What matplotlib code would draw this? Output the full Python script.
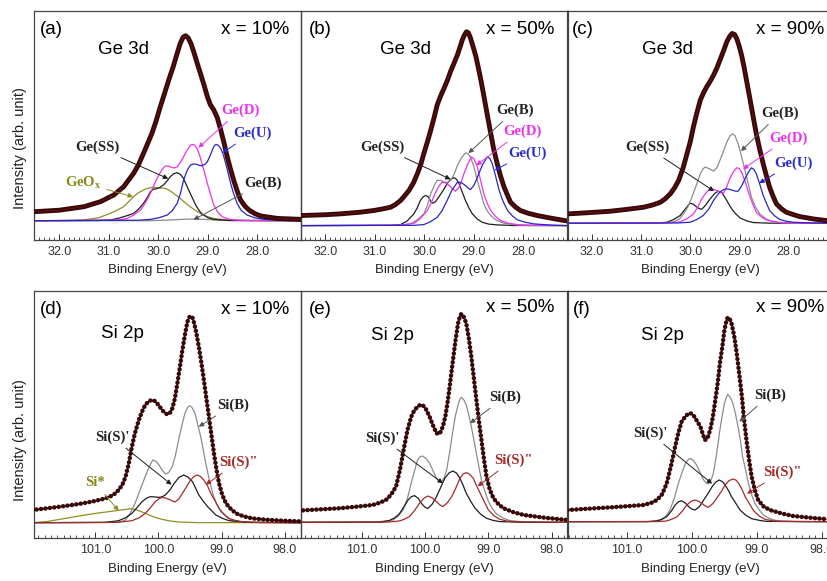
import matplotlib
matplotlib.use("Agg")
import matplotlib.pyplot as plt
from matplotlib.ticker import MultipleLocator, FormatStrFormatter

plt.rcParams['font.family'] = ['Liberation Sans', 'DejaVu Sans']
plt.rcParams['mathtext.fontset'] = 'stix'

# ---------------- DATA (binding energy in eV, intensity in arb. units) ----------------
# (a) Ge 3d, x = 10%
A_ENV_E = [32.50, 32.00, 31.50, 31.17, 30.90, 30.70, 30.50, 30.40, 30.30, 30.20, 30.13, 30.05, 29.96, 29.87, 29.79, 29.70, 29.62, 29.56, 29.50, 29.45, 29.40, 29.34, 29.28, 29.20, 29.15, 29.08, 29.01, 28.95, 28.88, 28.81, 28.74, 28.67, 28.61, 28.54, 28.47, 28.40, 28.34, 28.25, 28.17, 28.05, 27.93, 27.60, 27.10]
A_ENV_I = [9.0, 10.5, 14.0, 19.0, 25.7, 34.0, 47.3, 56.0, 67.3, 79.0, 87.3, 99.0, 114.0, 128.0, 140.7, 154.0, 167.3, 177.0, 183.5, 185.0, 183.0, 177.0, 168.0, 155.0, 147.3, 136.0, 124.0, 116.0, 110.7, 103.0, 90.7, 77.0, 64.0, 51.0, 39.0, 28.5, 20.7, 14.5, 10.7, 7.0, 4.7, 2.3, 1.3]
A_OX_E = [32.50, 31.80, 31.51, 31.20, 30.97, 30.85, 30.70, 30.60, 30.50, 30.40, 30.30, 30.20, 30.13, 30.05, 29.99, 29.92, 29.86, 29.78, 29.69, 29.60, 29.49, 29.40, 29.28, 29.15, 29.01, 28.85, 28.61, 28.30, 27.10]
A_OX_I = [0, 0.2, 0.7, 3.0, 7.3, 10.0, 14.0, 19.0, 24.0, 28.0, 30.7, 32.6, 33.3, 33.0, 32.7, 32.6, 32.3, 30.5, 27.3, 24.0, 19.3, 15.5, 11.3, 7.3, 4.0, 2.0, 0.7, 0.2, 0]
A_SS_E = [32.50, 31.20, 30.97, 30.80, 30.70, 30.60, 30.50, 30.40, 30.30, 30.22, 30.16, 30.10, 30.03, 29.96, 29.89, 29.82, 29.76, 29.69, 29.62, 29.56, 29.50, 29.45, 29.39, 29.32, 29.25, 29.18, 29.12, 29.00, 28.88, 28.60, 27.10]
A_SS_I = [0, 0.2, 0.7, 2.5, 4.0, 5.5, 7.3, 11.5, 17.3, 23.5, 29.0, 31.5, 32.0, 33.5, 36.0, 40.0, 44.0, 47.0, 48.0, 46.5, 43.0, 37.5, 31.0, 23.5, 16.0, 10.5, 6.7, 3.0, 1.3, 0.3, 0]
A_D_E = [32.50, 30.80, 30.63, 30.50, 30.36, 30.26, 30.16, 30.08, 29.99, 29.92, 29.86, 29.79, 29.72, 29.67, 29.62, 29.55, 29.49, 29.42, 29.36, 29.32, 29.27, 29.22, 29.17, 29.12, 29.06, 29.01, 28.95, 28.88, 28.80, 28.71, 28.60, 28.47, 28.20, 27.10]
A_D_I = [0, 0.7, 2.3, 5.5, 10.7, 18.0, 27.3, 36.5, 45.7, 51.5, 54.7, 54.5, 53.0, 52.8, 54.0, 58.5, 64.0, 70.5, 75.0, 76.3, 75.5, 72.3, 66.0, 57.3, 47.0, 37.3, 27.0, 15.7, 8.5, 4.0, 1.8, 0.7, 0.2, 0]
A_U_E = [32.50, 30.40, 30.16, 30.00, 29.82, 29.72, 29.62, 29.55, 29.49, 29.42, 29.35, 29.28, 29.22, 29.17, 29.12, 29.06, 29.01, 28.96, 28.91, 28.87, 28.84, 28.79, 28.74, 28.69, 28.64, 28.59, 28.54, 28.48, 28.41, 28.33, 28.21, 28.05, 27.87, 27.50, 27.10]
A_U_I = [0, 0.5, 1.3, 2.8, 5.7, 10.0, 17.3, 28.0, 40.7, 50.0, 55.7, 56.8, 56.3, 55.3, 55.0, 56.3, 59.0, 64.5, 70.7, 75.0, 76.3, 75.5, 72.3, 66.0, 57.3, 47.5, 37.3, 27.0, 17.3, 10.5, 5.7, 2.8, 1.3, 0.3, 0]
A_B_E = [32.50, 30.20, 29.80, 29.50, 29.28, 29.05, 28.80, 28.47, 27.10]
A_B_I = [0, 0, 0.6, 1.4, 1.7, 1.3, 0.5, 0, 0]

# (b) Ge 3d, x = 50%
B_ENV_E = [32.50, 32.00, 31.69, 31.30, 31.02, 30.80, 30.68, 30.58, 30.48, 30.40, 30.31, 30.22, 30.14, 30.07, 30.01, 29.94, 29.87, 29.80, 29.74, 29.67, 29.60, 29.53, 29.47, 29.40, 29.33, 29.27, 29.23, 29.19, 29.15, 29.11, 29.07, 29.02, 28.96, 28.91, 28.86, 28.81, 28.76, 28.71, 28.66, 28.60, 28.53, 28.46, 28.39, 28.32, 28.26, 28.16, 28.06, 27.90, 27.72, 27.40, 27.08]
B_ENV_I = [10.0, 10.8, 11.7, 13.3, 15.0, 17.0, 18.3, 21.0, 25.0, 29.5, 35.0, 42.5, 51.7, 61.0, 71.7, 83.0, 95.0, 108.0, 120.0, 129.0, 136.7, 145.0, 153.3, 161.5, 170.0, 179.0, 185.0, 189.5, 192.7, 191.5, 186.7, 178.5, 168.3, 157.0, 145.0, 132.0, 118.3, 105.0, 91.7, 76.0, 61.7, 49.0, 38.3, 30.0, 23.3, 18.5, 15.0, 12.2, 10.0, 7.0, 4.3]
B_SS_E = [32.50, 30.70, 30.48, 30.35, 30.21, 30.14, 30.08, 30.02, 29.97, 29.92, 29.88, 29.84, 29.78, 29.71, 29.62, 29.54, 29.47, 29.40, 29.35, 29.30, 29.24, 29.17, 29.10, 29.03, 28.93, 28.83, 28.70, 28.53, 28.20, 27.08]
B_SS_I = [0, 0.3, 1.0, 4.5, 11.7, 18.0, 25.0, 28.8, 30.0, 28.5, 25.0, 22.3, 23.5, 28.3, 35.0, 41.7, 46.0, 47.7, 46.0, 41.7, 34.0, 25.0, 17.5, 11.7, 6.5, 3.3, 1.5, 0.7, 0.1, 0]
B_B_E = [32.50, 30.50, 30.28, 30.15, 30.01, 29.94, 29.87, 29.80, 29.74, 29.67, 29.60, 29.53, 29.47, 29.40, 29.33, 29.25, 29.17, 29.12, 29.07, 29.00, 28.93, 28.86, 28.80, 28.73, 28.66, 28.55, 28.39, 28.10, 27.08]
B_B_I = [0, 0.3, 1.7, 5.5, 11.7, 20.0, 31.7, 40.0, 45.0, 45.0, 43.3, 43.0, 45.0, 51.0, 60.0, 67.5, 72.3, 71.5, 68.3, 58.5, 45.0, 32.5, 21.7, 14.5, 10.0, 5.5, 2.3, 0.5, 0]
B_D_E = [32.50, 30.50, 30.21, 30.08, 29.94, 29.85, 29.77, 29.70, 29.64, 29.57, 29.50, 29.43, 29.37, 29.30, 29.25, 29.20, 29.12, 29.05, 29.00, 28.93, 28.87, 28.80, 28.73, 28.66, 28.56, 28.46, 28.30, 28.12, 27.80, 27.08]
B_D_I = [0, 0.5, 2.3, 7.0, 15.0, 24.0, 33.3, 39.5, 43.3, 42.5, 40.0, 36.5, 34.3, 38.0, 44.0, 51.7, 61.5, 68.3, 66.5, 58.3, 46.0, 31.7, 22.0, 15.0, 9.0, 5.0, 2.3, 1.0, 0.2, 0]
B_U_E = [32.50, 30.20, 30.01, 29.88, 29.74, 29.64, 29.54, 29.44, 29.33, 29.27, 29.20, 29.13, 29.07, 29.00, 28.95, 28.90, 28.82, 28.73, 28.68, 28.63, 28.56, 28.49, 28.41, 28.32, 28.22, 28.12, 27.95, 27.79, 27.40, 27.08]
B_U_I = [0, 0.3, 1.0, 3.8, 8.3, 15.0, 25.0, 35.5, 43.3, 43.0, 41.0, 38.0, 35.7, 40.0, 45.5, 51.7, 61.0, 68.3, 67.0, 61.7, 49.0, 35.0, 24.0, 15.0, 9.5, 5.7, 3.2, 1.7, 0.4, 0]

# (c) Ge 3d, x = 90%
C_ENV_E = [32.50, 32.00, 31.63, 31.30, 30.95, 30.75, 30.61, 30.51, 30.41, 30.32, 30.24, 30.15, 30.07, 30.00, 29.94, 29.87, 29.80, 29.73, 29.67, 29.60, 29.53, 29.46, 29.40, 29.33, 29.26, 29.20, 29.15, 29.10, 29.06, 29.01, 28.96, 28.91, 28.86, 28.81, 28.76, 28.71, 28.66, 28.59, 28.52, 28.45, 28.39, 28.32, 28.25, 28.15, 28.05, 27.90, 27.78, 27.50, 27.24, 27.05]
C_ENV_I = [9.3, 10.8, 12.0, 13.8, 16.0, 18.5, 21.0, 24.5, 29.3, 35.5, 42.7, 55.0, 69.3, 82.0, 96.0, 110.0, 122.7, 130.5, 136.0, 141.5, 147.7, 155.0, 162.7, 171.5, 181.0, 186.5, 189.3, 188.2, 184.3, 177.0, 167.7, 156.0, 142.7, 129.5, 116.0, 102.5, 89.3, 73.5, 59.3, 46.5, 36.0, 27.0, 19.3, 14.5, 11.0, 8.5, 6.7, 4.3, 2.7, 2.3]
C_SS_E = [32.50, 30.70, 30.48, 30.35, 30.21, 30.10, 30.01, 29.94, 29.87, 29.80, 29.77, 29.70, 29.60, 29.50, 29.43, 29.36, 29.30, 29.23, 29.16, 29.08, 28.99, 28.85, 28.72, 28.40, 27.05]
C_SS_I = [0, 0.2, 1.0, 3.5, 7.7, 14.5, 20.0, 19.0, 16.0, 14.2, 14.0, 17.5, 24.3, 30.0, 32.0, 30.5, 26.0, 20.0, 14.3, 9.5, 5.3, 2.3, 0.7, 0.1, 0]
C_B_E = [32.50, 30.55, 30.34, 30.22, 30.14, 30.05, 29.97, 29.88, 29.80, 29.74, 29.70, 29.62, 29.53, 29.46, 29.40, 29.33, 29.26, 29.19, 29.14, 29.09, 29.03, 28.96, 28.89, 28.82, 28.76, 28.68, 28.59, 28.45, 28.32, 28.00, 27.05]
C_B_I = [0, 0.3, 1.3, 4.5, 9.3, 16.5, 26.0, 38.0, 49.3, 54.5, 56.0, 54.5, 52.0, 55.5, 62.7, 71.5, 81.0, 87.5, 89.3, 87.0, 79.3, 66.5, 52.7, 38.5, 26.0, 16.5, 9.3, 4.0, 1.3, 0.2, 0]
C_D_E = [32.50, 30.45, 30.21, 30.07, 29.94, 29.85, 29.77, 29.68, 29.60, 29.53, 29.47, 29.40, 29.33, 29.27, 29.20, 29.13, 29.06, 29.01, 28.96, 28.89, 28.82, 28.74, 28.66, 28.55, 28.45, 28.18, 27.80, 27.05]
C_D_I = [0, 0.4, 1.3, 4.5, 9.3, 16.0, 24.3, 30.5, 34.3, 34.0, 32.7, 31.0, 30.0, 35.5, 44.3, 51.0, 55.3, 54.8, 51.0, 42.0, 31.0, 20.0, 11.0, 6.0, 3.3, 0.7, 0.1, 0]
C_U_E = [32.50, 30.25, 30.01, 29.88, 29.74, 29.63, 29.53, 29.46, 29.40, 29.33, 29.26, 29.20, 29.13, 29.08, 29.03, 28.96, 28.89, 28.82, 28.76, 28.71, 28.66, 28.59, 28.52, 28.45, 28.39, 28.29, 28.18, 28.05, 27.91, 27.50, 27.05]
C_U_I = [0, 0.3, 1.0, 3.5, 7.7, 14.0, 22.7, 27.5, 31.0, 33.5, 34.3, 33.8, 32.7, 32.0, 32.0, 37.0, 44.3, 51.0, 55.3, 53.8, 49.3, 39.0, 27.7, 19.5, 12.7, 7.5, 3.7, 2.0, 1.0, 0.2, 0]

# (d) Si 2p, x = 10%
D_ENV_E = [102.00, 101.75, 101.48, 101.25, 101.06, 100.90, 100.79, 100.70, 100.63, 100.57, 100.52, 100.47, 100.42, 100.37, 100.31, 100.26, 100.21, 100.16, 100.11, 100.06, 100.02, 99.98, 99.94, 99.90, 99.86, 99.82, 99.78, 99.74, 99.70, 99.66, 99.62, 99.58, 99.54, 99.51, 99.49, 99.46, 99.44, 99.40, 99.36, 99.32, 99.28, 99.24, 99.20, 99.16, 99.12, 99.08, 99.04, 98.99, 98.93, 98.85, 98.77, 98.65, 98.51, 98.30, 98.03, 97.75]
D_ENV_I = [12.7, 14.5, 16.7, 18.8, 21.0, 23.3, 25.3, 28.5, 32.7, 38.0, 46.0, 59.0, 76.0, 90.0, 102.7, 111.0, 117.7, 121.0, 122.7, 121.8, 119.3, 116.0, 112.7, 109.8, 108.3, 109.5, 114.3, 124.0, 139.3, 155.5, 172.7, 188.0, 201.0, 205.5, 206.7, 205.0, 201.0, 190.0, 176.0, 160.0, 142.7, 124.0, 106.0, 87.5, 69.3, 53.0, 39.3, 28.0, 19.3, 13.5, 9.3, 6.3, 4.3, 3.0, 2.0, 1.3]
D_X_E = [102.00, 101.75, 101.55, 101.32, 101.18, 101.06, 100.92, 100.79, 100.65, 100.52, 100.44, 100.38, 100.31, 100.23, 100.15, 100.05, 99.94, 99.82, 99.68, 99.40, 97.75]
D_X_I = [0, 1.3, 3.5, 6.0, 7.5, 8.7, 10.0, 11.0, 12.2, 13.3, 14.0, 13.5, 12.0, 10.0, 7.7, 5.3, 3.3, 1.8, 0.7, 0.1, 0]
D_B_E = [102.00, 100.70, 100.60, 100.52, 100.45, 100.37, 100.30, 100.23, 100.16, 100.09, 100.04, 99.99, 99.94, 99.89, 99.84, 99.78, 99.73, 99.68, 99.63, 99.58, 99.54, 99.51, 99.47, 99.42, 99.38, 99.33, 99.29, 99.25, 99.20, 99.14, 99.08, 99.01, 98.92, 98.83, 98.60, 97.75]
D_B_I = [0, 0.3, 1.0, 2.7, 9.0, 19.3, 31.0, 42.7, 54.0, 62.7, 61.5, 57.7, 52.5, 48.7, 50.0, 56.0, 67.5, 82.7, 97.0, 109.3, 115.0, 117.0, 115.5, 109.3, 99.0, 86.0, 73.0, 59.3, 44.5, 29.3, 19.0, 11.0, 5.5, 2.0, 0.3, 0]
D_S1_E = [102.00, 100.85, 100.63, 100.52, 100.42, 100.34, 100.26, 100.19, 100.13, 100.06, 99.99, 99.94, 99.89, 99.82, 99.75, 99.68, 99.60, 99.53, 99.46, 99.41, 99.36, 99.29, 99.22, 99.15, 99.09, 98.98, 98.88, 98.60, 97.75]
D_S1_I = [0, 0.3, 2.0, 5.0, 9.3, 15.0, 21.0, 24.5, 26.0, 25.8, 25.3, 26.0, 27.7, 32.5, 39.3, 45.0, 47.7, 45.5, 41.0, 34.5, 27.7, 21.5, 16.0, 11.5, 7.7, 4.2, 2.0, 0.4, 0]
D_S2_E = [102.00, 100.65, 100.42, 100.30, 100.21, 100.12, 100.05, 99.99, 99.94, 99.88, 99.83, 99.78, 99.74, 99.68, 99.62, 99.55, 99.49, 99.43, 99.38, 99.33, 99.28, 99.22, 99.17, 99.10, 99.04, 98.96, 98.88, 98.78, 98.67, 98.40, 97.75]
D_S2_I = [0, 0.3, 2.0, 5.0, 9.3, 15.5, 21.0, 24.0, 25.3, 24.5, 23.3, 21.8, 20.7, 23.5, 29.3, 36.5, 42.7, 46.5, 47.7, 46.0, 42.7, 36.5, 29.3, 21.5, 14.3, 8.5, 4.3, 2.2, 1.0, 0.2, 0]

# (e) Si 2p, x = 50%
E_ENV_E = [102.00, 101.70, 101.36, 101.10, 100.83, 100.72, 100.62, 100.54, 100.46, 100.40, 100.33, 100.28, 100.22, 100.17, 100.12, 100.08, 100.04, 99.99, 99.93, 99.88, 99.82, 99.77, 99.72, 99.68, 99.64, 99.60, 99.56, 99.52, 99.48, 99.45, 99.43, 99.40, 99.35, 99.31, 99.27, 99.23, 99.19, 99.15, 99.11, 99.07, 99.03, 98.98, 98.92, 98.84, 98.76, 98.60, 98.44, 98.10, 97.75]
E_ENV_I = [11.7, 12.8, 14.0, 15.5, 17.3, 19.5, 22.3, 27.5, 35.7, 52.0, 75.7, 92.0, 105.7, 112.0, 115.7, 117.3, 117.3, 113.5, 105.7, 97.5, 89.0, 88.5, 95.7, 106.0, 122.3, 142.0, 162.3, 182.0, 199.0, 206.0, 208.3, 207.0, 199.0, 184.0, 165.7, 144.0, 122.3, 101.5, 82.3, 63.0, 45.7, 33.0, 24.0, 18.0, 14.0, 10.0, 7.3, 4.5, 2.3]
E_B_E = [102.00, 100.70, 100.51, 100.43, 100.35, 100.28, 100.22, 100.17, 100.12, 100.08, 100.04, 99.99, 99.93, 99.87, 99.82, 99.78, 99.74, 99.70, 99.66, 99.61, 99.56, 99.52, 99.48, 99.45, 99.43, 99.39, 99.35, 99.31, 99.27, 99.23, 99.19, 99.15, 99.11, 99.05, 99.00, 98.93, 98.87, 98.76, 98.66, 98.40, 97.75]
E_B_I = [0, 0.2, 2.3, 6.0, 12.3, 24.0, 39.0, 51.0, 62.3, 65.5, 66.3, 64.0, 59.0, 51.0, 44.0, 41.0, 40.7, 44.5, 52.3, 71.0, 92.3, 107.0, 117.3, 123.0, 125.0, 122.5, 117.3, 107.5, 95.7, 82.5, 69.0, 55.5, 42.3, 30.0, 20.7, 13.0, 8.3, 4.0, 1.7, 0.2, 0]
E_S1_E = [102.00, 100.75, 100.57, 100.48, 100.41, 100.34, 100.27, 100.22, 100.17, 100.11, 100.06, 100.01, 99.96, 99.89, 99.82, 99.75, 99.69, 99.62, 99.56, 99.50, 99.45, 99.40, 99.35, 99.28, 99.21, 99.12, 99.03, 98.92, 98.82, 98.50, 97.75]
E_S1_I = [0, 0.2, 1.7, 4.5, 8.3, 15.0, 22.3, 25.5, 26.7, 24.0, 19.0, 15.5, 13.7, 18.0, 25.7, 35.5, 44.0, 49.5, 51.3, 49.0, 44.0, 37.0, 29.0, 21.0, 14.0, 8.0, 4.0, 1.8, 0.7, 0.1, 0]
E_S2_E = [102.00, 100.60, 100.41, 100.33, 100.25, 100.17, 100.09, 100.02, 99.96, 99.89, 99.82, 99.77, 99.72, 99.65, 99.58, 99.51, 99.45, 99.40, 99.35, 99.30, 99.24, 99.19, 99.13, 99.06, 99.00, 98.91, 98.82, 98.70, 98.55, 97.75]
E_S2_I = [0, 0.2, 1.3, 3.0, 5.7, 11.5, 19.0, 24.0, 26.3, 24.5, 20.7, 17.5, 15.7, 19.5, 25.7, 35.0, 44.0, 48.2, 49.7, 48.2, 44.0, 37.0, 29.0, 20.0, 12.3, 6.5, 3.0, 1.2, 0.3, 0]

# (f) Si 2p, x = 90%
F_ENV_E = [101.92, 101.60, 101.26, 101.00, 100.75, 100.63, 100.54, 100.46, 100.39, 100.32, 100.26, 100.21, 100.16, 100.10, 100.05, 100.01, 99.98, 99.93, 99.87, 99.83, 99.80, 99.76, 99.72, 99.68, 99.64, 99.60, 99.57, 99.53, 99.50, 99.47, 99.45, 99.42, 99.39, 99.35, 99.31, 99.27, 99.23, 99.20, 99.16, 99.12, 99.08, 99.03, 98.98, 98.90, 98.80, 98.60, 98.44, 98.10, 97.81]
F_ENV_I = [11.7, 13.0, 14.3, 15.5, 16.7, 18.8, 21.7, 27.5, 38.3, 57.0, 75.0, 89.0, 100.0, 105.5, 108.3, 108.2, 106.7, 101.5, 95.0, 87.0, 81.7, 83.5, 91.7, 104.0, 121.7, 140.5, 158.3, 176.0, 191.7, 200.5, 204.3, 203.0, 198.3, 186.0, 168.3, 147.0, 125.0, 104.0, 81.7, 62.0, 45.0, 31.5, 21.7, 15.5, 11.7, 8.0, 5.7, 3.5, 2.0]
F_B_E = [101.92, 100.65, 100.49, 100.41, 100.34, 100.27, 100.21, 100.15, 100.10, 100.06, 100.03, 99.98, 99.93, 99.87, 99.82, 99.78, 99.75, 99.71, 99.67, 99.62, 99.57, 99.53, 99.50, 99.47, 99.45, 99.41, 99.37, 99.33, 99.29, 99.25, 99.22, 99.17, 99.13, 99.08, 99.03, 98.96, 98.90, 98.80, 98.69, 98.40, 97.81]
F_B_I = [0, 0.2, 1.7, 5.0, 11.7, 24.0, 38.3, 50.0, 58.3, 62.0, 63.3, 61.5, 56.7, 48.5, 41.7, 38.5, 37.7, 41.0, 48.3, 68.0, 91.7, 107.5, 118.3, 124.5, 127.3, 124.5, 118.3, 108.0, 95.0, 80.0, 65.0, 51.0, 38.3, 27.0, 18.3, 11.5, 6.7, 3.0, 1.0, 0.1, 0]
F_S1_E = [101.92, 100.70, 100.54, 100.46, 100.39, 100.32, 100.26, 100.21, 100.16, 100.10, 100.05, 100.00, 99.95, 99.88, 99.82, 99.75, 99.69, 99.63, 99.58, 99.53, 99.49, 99.44, 99.39, 99.32, 99.26, 99.17, 99.08, 98.95, 98.85, 97.81]
F_S1_I = [0, 0.1, 0.7, 2.5, 5.0, 10.5, 16.7, 19.8, 21.0, 18.5, 15.0, 12.5, 11.7, 15.5, 21.7, 28.5, 35.0, 39.8, 41.7, 40.0, 36.7, 31.5, 25.0, 18.0, 11.7, 6.5, 3.0, 1.2, 0.3, 0]
F_S2_E = [101.92, 100.55, 100.39, 100.31, 100.23, 100.15, 100.08, 100.01, 99.95, 99.90, 99.85, 99.80, 99.75, 99.68, 99.62, 99.55, 99.49, 99.43, 99.37, 99.32, 99.28, 99.23, 99.18, 99.11, 99.05, 98.96, 98.87, 98.75, 98.64, 97.81]
F_S2_I = [0, 0.1, 0.7, 2.5, 5.0, 10.5, 16.7, 20.5, 21.7, 20.5, 18.3, 16.0, 14.3, 18.0, 23.3, 30.0, 36.7, 41.0, 42.7, 41.5, 38.3, 32.5, 25.0, 17.5, 11.0, 5.5, 2.3, 0.9, 0.3, 0]

PANEL_TAGS = ['(a)', '(b)', '(c)', '(d)', '(e)', '(f)']
COMPOSITIONS = ['x = 10%', 'x = 50%', 'x = 90%', 'x = 10%', 'x = 50%', 'x = 90%']
CORE_LEVELS = ['Ge 3d', 'Ge 3d', 'Ge 3d', 'Si 2p', 'Si 2p', 'Si 2p']
X_LABEL = 'Binding Energy (eV)'
Y_LABEL = 'Intensity (arb. unit)'

# ---------------- STYLE ----------------
W, H = 827, 581
ENV_DARK = '#380909'
FIT_RED = '#d42a2a'
COL = {'SS': '#1e1e1e', 'B': '#8c8c8c', 'D': '#ee30ee', 'U': '#2626c8',
       'OX': '#8f8f25', 'S1': '#1e1e1e', 'S2': '#a52a2a'}
LABCOL = {'SS': '#222222', 'B': '#222222', 'D': '#ee30ee', 'U': '#2a2ad0',
          'OX': '#88881a', 'S1': '#222222', 'S2': '#a52a2a'}


def fp(x, y):
    return (x / W, 1 - y / H)


fig = plt.figure(figsize=(W / 100, H / 100), dpi=100)

# axes boxes in reference pixels: (left, top, right, bottom)
BOXES = [(34, 11, 300.5, 240), (300.5, 11, 567.5, 240), (567.5, 11, 834, 240),
         (34, 291, 300.5, 538.3), (300.5, 291, 567.5, 538.3), (567.5, 291, 834, 538.3)]
XLIMS = [(32.51, 27.13), (32.50, 27.11), (32.50, 27.08),
         (101.97, 97.75), (101.97, 97.75), (101.92, 97.81)]
YLIMS = [(-19.3, 209.7), (-14.3, 213.3), (-16.7, 211.7),
         (-15.6, 231.7), (-16.0, 231.3), (-16.6, 230.7)]

panels = [
    dict(env=(A_ENV_E, A_ENV_I), comps=[('OX', A_OX_E, A_OX_I), ('B', A_B_E, A_B_I), ('SS', A_SS_E, A_SS_I),
                                        ('D', A_D_E, A_D_I), ('U', A_U_E, A_U_I)], dots=False),
    dict(env=(B_ENV_E, B_ENV_I), comps=[('SS', B_SS_E, B_SS_I), ('B', B_B_E, B_B_I),
                                        ('D', B_D_E, B_D_I), ('U', B_U_E, B_U_I)], dots=False),
    dict(env=(C_ENV_E, C_ENV_I), comps=[('SS', C_SS_E, C_SS_I), ('B', C_B_E, C_B_I),
                                        ('D', C_D_E, C_D_I), ('U', C_U_E, C_U_I)], dots=False),
    dict(env=(D_ENV_E, D_ENV_I), comps=[('OX', D_X_E, D_X_I), ('B', D_B_E, D_B_I),
                                        ('S1', D_S1_E, D_S1_I), ('S2', D_S2_E, D_S2_I)], dots=True),
    dict(env=(E_ENV_E, E_ENV_I), comps=[('B', E_B_E, E_B_I), ('S1', E_S1_E, E_S1_I),
                                        ('S2', E_S2_E, E_S2_I)], dots=True),
    dict(env=(F_ENV_E, F_ENV_I), comps=[('B', F_B_E, F_B_I), ('S1', F_S1_E, F_S1_I),
                                        ('S2', F_S2_E, F_S2_I)], dots=True),
]

# annotations: (kind, text, text-centre px, arrow tip in data coords)
ANNOT = [
    [('D', 'Ge(D)', (240, 110), (29.19, 73)), ('U', 'Ge(U)', (252, 133), (28.70, 68)),
     ('SS', 'Ge(SS)', (97, 147), (29.80, 42)), ('OX', 'GeO$_\\mathbf{x}$', (83, 183), (30.51, 24)),
     ('B', 'Ge(B)', (263, 183), (29.29, 1))],
    [('B', 'Ge(B)', (515, 110), (29.11, 72)), ('D', 'Ge(D)', (522, 131), (28.95, 60)),
     ('U', 'Ge(U)', (527, 153), (28.58, 55)), ('SS', 'Ge(SS)', (382, 147), (29.47, 46))],
    [('B', 'Ge(B)', (780, 113), (28.97, 72)), ('D', 'Ge(D)', (788, 138), (28.93, 54)),
     ('U', 'Ge(U)', (793, 163), (28.60, 40)), ('SS', 'Ge(SS)', (647, 147), (29.52, 32))],
    [('B', 'Si(B)', (233, 405), (99.36, 96)), ('S1', "Si(S)'", (112, 437), (99.79, 38)),
     ('S2', 'Si(S)"', (238, 462), (99.25, 38)), ('OX', 'Si*', (95, 483), (100.63, 12))],
    [('B', 'Si(B)', (505, 397), (99.29, 99)), ('S1', "Si(S)'", (382, 438), (99.72, 39)),
     ('S2', 'Si(S)"', (513, 460), (99.17, 36))],
    [('B', 'Si(B)', (770, 395), (99.27, 100)), ('S1', "Si(S)'", (650, 433), (99.69, 38)),
     ('S2', 'Si(S)"', (782, 472), (99.15, 28))],
]
TAG_POS = [(51, 29), (320, 29), (583, 29), (51, 309), (320, 309), (582, 309)]
COMP_POS = [(255, 30), (520, 30), (790, 30), (255, 309), (520, 308), (790, 308)]
CORE_POS = [(124, 49), (405, 49), (668, 49), (122, 334), (392, 335), (662, 335)]

for k, p in enumerate(panels):
    l, t, r, b = BOXES[k]
    ax = fig.add_axes([l / W, 1 - b / H, (r - l) / W, (b - t) / H])
    ax.set_xlim(*XLIMS[k])
    ax.set_ylim(*YLIMS[k])
    for kind, e, i in p['comps']:
        ax.plot(e, i, color=COL[kind], lw=0.9, zorder=2,
                solid_joinstyle='round')
    ee, ii = p['env']
    if p['dots']:
        ax.plot(ee, ii, color=FIT_RED, lw=0.8, zorder=3)
        ax.plot(ee, ii, color=ENV_DARK, lw=3.2, linestyle=(0, (0.05, 0.95)),
                dash_capstyle='round', zorder=4)
    else:
        ax.plot(ee, ii, color=ENV_DARK, lw=3.5, solid_capstyle='round',
                solid_joinstyle='round', zorder=3)
        ax.plot(ee, ii, color='#6e1010', lw=0.6, zorder=4)
    ax.set_yticks([])
    ax.xaxis.set_major_locator(MultipleLocator(1.0))
    ax.xaxis.set_minor_locator(MultipleLocator(0.1))
    ax.xaxis.set_major_formatter(FormatStrFormatter('%.1f'))
    ax.tick_params(axis='x', which='major', direction='in', length=4, width=0.7,
                   colors='#333333', labelsize=9, pad=4, top=False)
    ax.tick_params(axis='x', which='minor', direction='in', length=2, width=0.6,
                   colors='#333333', top=False)
    for s in ax.spines.values():
        s.set_color('#444444')
        s.set_linewidth(0.9)
    ax.set_xlabel(X_LABEL, fontsize=9.5, labelpad=5, color='#222222')
    ax.patch.set_alpha(0)

    fig.text(*fp(*TAG_POS[k]), PANEL_TAGS[k], fontsize=13.5, ha='center', va='center')
    fig.text(*fp(*COMP_POS[k]), COMPOSITIONS[k], fontsize=13.5, ha='center', va='center')
    fig.text(*fp(*CORE_POS[k]), CORE_LEVELS[k], fontsize=13.5, ha='center', va='center')

    for kind, txt, tpos, tip in ANNOT[k]:
        ax.annotate(txt, xy=tip, xycoords='data', xytext=fp(*tpos), textcoords='figure fraction',
                    ha='center', va='center', fontsize=10.5, fontweight='bold',
                    family=['Liberation Serif', 'DejaVu Serif'], color=LABCOL[kind],
                    arrowprops=dict(arrowstyle='-|>', color=COL[kind] if kind != 'B' else '#555555',
                                    lw=0.7, mutation_scale=7, shrinkA=2, shrinkB=0),
                    zorder=5, annotation_clip=False)

fig.text(*fp(20, 148), Y_LABEL, rotation=90, fontsize=10.5, ha='center', va='center', color='#222222')
fig.text(*fp(20, 440), Y_LABEL, rotation=90, fontsize=10.5, ha='center', va='center', color='#222222')

fig.savefig('out.png', dpi=100, facecolor='white')
